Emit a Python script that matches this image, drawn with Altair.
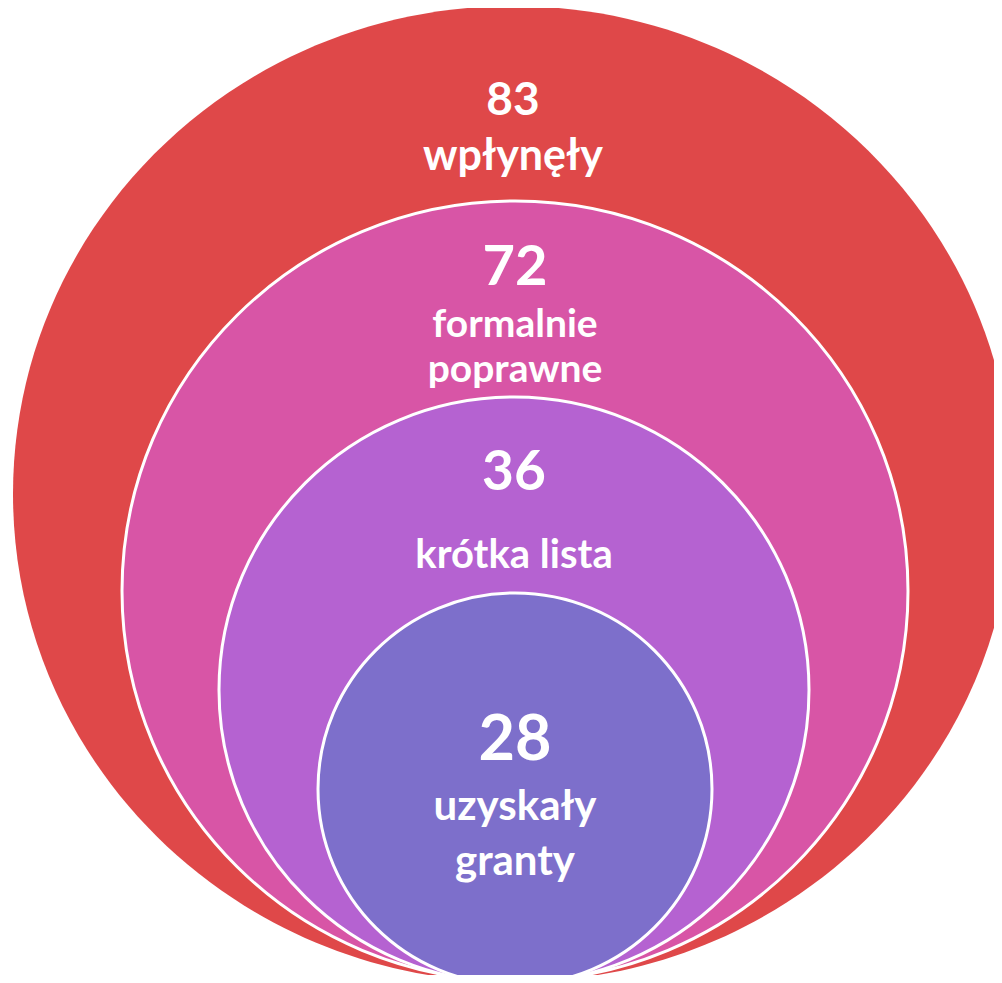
import altair as alt
import pandas as pd

# --- data ---
levels = [0, 1, 2, 3]
counts = [83, 72, 36, 28]
labels = ["wpłynęły", "formalnie\npoprawne", "krótka lista", "uzyskały\ngranty"]

df = pd.DataFrame({"level": levels, "count": counts, "label": labels})

# --- styling / layout (page coords, minus 8px margin) ---
M = 8
colors = ["#DF4849", "#D855A6", "#B562D1", "#7D6FCB"]
# ellipse geometry: cx, cy, rx, ry
geom = [
    (513, 494, 500, 488),
    (515, 591, 393, 390),
    (514, 690, 295, 293),
    (515, 789, 197, 196),
]
num_y = [115, 285, 490, 760]
num_size = [46, 56, 55, 63]
lab_y = [170, 337, 568, 820]
lab_size = [43, 39, 40, 42]
lab_lh = [42, 45, 40, 55]
FONT = "Lato"


def ellipse_path(e):
    k = 0.5523
    return (
        f"M-1,0 C-1,{-k*e:.4f} {-k:.4f},{-e:.4f} 0,{-e:.4f} "
        f"C{k:.4f},{-e:.4f} 1,{-k*e:.4f} 1,0 "
        f"C1,{k*e:.4f} {k:.4f},{e:.4f} 0,{e:.4f} "
        f"C{-k:.4f},{e:.4f} -1,{k*e:.4f} -1,0 Z"
    )


base = alt.Chart(df)
layers = []
for i, (cx, cy, rx, ry) in enumerate(geom):
    layers.append(
        base.transform_filter(alt.datum.level == i)
        .mark_point(
            shape=ellipse_path(ry / rx),
            filled=True,
            fill=colors[i],
            fillOpacity=1,
            opacity=1,
            stroke="white",
            strokeWidth=3 if i > 0 else 0,
            strokeOpacity=1,
        )
        .encode(
            x=alt.value(cx - M),
            y=alt.value(cy - M),
            size=alt.value((2 * rx) ** 2),
        )
    )

for i, (cx, cy, rx, ry) in enumerate(geom):
    layers.append(
        base.transform_filter(alt.datum.level == i)
        .mark_text(
            font=FONT,
            fontWeight="bold",
            fontSize=num_size[i],
            color="white",
            align="center",
            baseline="alphabetic",
        )
        .encode(x=alt.value(cx - M), y=alt.value(num_y[i] - M), text="count:Q")
    )
    layers.append(
        base.transform_filter(alt.datum.level == i)
        .mark_text(
            font=FONT,
            fontWeight="bold",
            fontSize=lab_size[i],
            color="white",
            align="center",
            baseline="alphabetic",
            lineBreak="\n",
            lineHeight=lab_lh[i],
        )
        .encode(x=alt.value(cx - M), y=alt.value(lab_y[i] - M), text="label:N")
    )

chart = (
    alt.layer(*layers)
    .properties(width=986, height=967, padding=0, autosize=alt.AutoSizeParams(type="none"))
    .configure_view(stroke=None)
)

chart.save("out.html", embed_options={"renderer": "svg", "actions": False})
